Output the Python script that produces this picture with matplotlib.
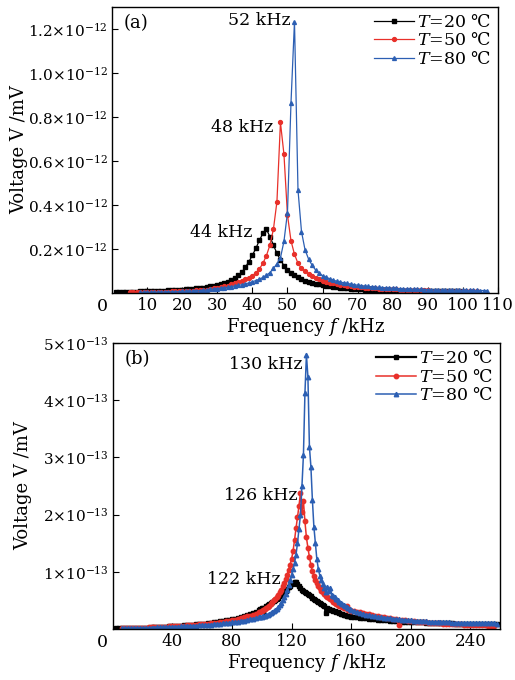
import matplotlib
matplotlib.use('Agg')
import matplotlib.pyplot as plt
import numpy as np

plt.rcParams['font.family'] = ['DejaVu Serif', 'DejaVu Sans']
plt.rcParams['mathtext.fontset'] = 'dejavuserif'

# ---------------- panel (a): values in 1e-12 mV, 1 kHz steps ----------------
fa_20 = list(range(1, 101))
va_20 = [.004, .0045, .005, .0055, .006, .0065, .007, .0075, .008, .0085,
         .009, .0095, .010, .0105, .011, .012, .013, .014, .015, .016,
         .017, .018, .019, .021, .023, .025, .027, .030, .033, .037,
         .041, .046, .052, .059, .067, .080, .095, .118, .142, .172,
         .203, .240, .271, .290, .256, .218, .180, .150, .125, .107,
         .093, .082, .072, .064, .057, .052, .047, .043, .039, .036,
         .033, .031, .029, .027, .025, .023, .021, .020, .019, .018,
         .017, .016, .0155, .015, .0145, .014, .0135, .013, .0125, .012,
         .0117, .0114, .0111, .0108, .0105, .0102, .0099, .0096, .0093, .009,
         .0088, .0086, .0084, .0082, .008, .0078, .0076, .0074, .0072, .007]

fa_50 = list(range(5, 105))
va_50 = [.003, .0033, .0036, .004, .0043, .0046, .005, .0054, .0058, .0062,
         .0066, .007, .0075, .008, .0085, .009, .0096, .0103, .011, .012,
         .013, .014, .016, .018, .021, .024, .027, .030, .034, .039,
         .044, .049, .055, .062, .070, .079, .092, .110, .135, .170,
         .218, .290, .415, .775, .630, .355, .238, .176, .135, .112,
         .100, .087, .077, .069, .062, .056, .051, .047, .044, .041,
         .038, .035, .033, .031, .029, .027, .026, .024, .023, .022,
         .021, .020, .019, .018, .0175, .017, .0165, .016, .0155, .015,
         .0145, .014, .0135, .013, .0125, .012, .0117, .0114, .0111, .0108,
         .0105, .0102, .0099, .0096, .0093, .009, .0087, .0084, .0081, .0078]

fa_80 = list(range(8, 108))
va_80 = [.003, .0033, .0036, .004, .0043, .0046, .005, .0054, .0058, .0062,
         .0066, .007, .0075, .008, .0087, .0095, .0104, .0114, .0125, .0137,
         .0165, .0185, .0205, .0225, .0245, .027, .0295, .032, .035, .038,
         .042, .046, .051, .057, .063, .071, .081, .093, .112, .133,
         .160, .235, .365, .862, 1.233, .468, .279, .197, .155, .127,
         .105, .090, .079, .072, .065, .059, .054, .050, .047, .044,
         .041, .038, .036, .034, .032, .030, .029, .027, .026, .025,
         .024, .023, .022, .021, .020, .019, .0185, .018, .0175, .017,
         .0165, .016, .0155, .015, .0145, .014, .0138, .0136, .0134, .0132,
         .013, .0128, .0126, .0124, .0122, .012, .0118, .0116, .0114, .0112]

# ---------------- panel (b): values in 1e-13 mV ----------------
fb_20 = list(range(0, 99, 2)) + list(range(99, 161)) + list(range(162, 259, 2))
vb_20 = [.008, .009, .010, .011, .012, .013, .015, .016, .018, .020,
         .022, .024, .026, .028, .030, .032, .035, .038, .041, .044,
         .047, .050, .054, .058, .062, .066, .070, .075, .080, .085,
         .090, .096, .102, .110, .118, .126, .134, .143, .152, .162,
         .172, .183, .195, .208, .222, .237, .258, .278, .300, .330,
         .345, .360, .375, .220, .405, .420, .435, .450, .470, .490,
         .510, .530, .550, .580, .600, .620, .645, .670, .700, .730,
         .760, .790, .810, .830, .820, .790, .750, .720, .690, .670,
         .650, .630, .610, .590, .570, .550, .530, .510, .490, .470,
         .450, .430, .415, .400, .280, .370, .355, .340, .330, .320,
         .310, .300, .290, .280, .270, .260, .250, .240, .235, .230,
         .220, .215,
         .210, .205, .200, .190, .185, .180, .175, .170, .165, .160,
         .155, .150, .145, .140, .137, .134, .131, .128, .125, .122,
         .120, .118, .116, .114, .112, .110, .108, .106, .104, .102,
         .100, .099, .098, .097, .096, .095, .094, .093, .092, .091,
         .090, .089, .088, .087, .086, .085, .084, .083, .082]

fb_50 = list(range(6, 99, 2)) + list(range(99, 161)) + list(range(162, 257, 2))
vb_50 = [.015, .016, .017, .018, .019, .020, .022, .024, .026, .028,
         .030, .032, .034, .036, .039, .042, .045, .048, .051, .054,
         .057, .060, .064, .068, .072, .076, .080, .085, .090, .095,
         .100, .106, .112, .119, .126, .134, .142, .150, .160, .170,
         .188, .203, .220, .235, .250, .270, .290,
         .300, .315, .330, .350, .370, .390, .410, .440, .470, .500,
         .530, .560, .600, .640, .690, .750, .810, .880, .950, 1.03,
         1.12, 1.22, 1.36, 1.55, 1.76, 1.95, 2.15, 2.38, 2.05, 2.23,
         1.88, 1.60, 1.42, 1.26, 1.12, 1.01, .930, .860, .800, .750,
         .710, .670, .640, .610, .580, .560, .540, .520, .500, .480,
         .460, .440, .425, .410, .395, .380, .370, .360, .400, .340,
         .330, .320,
         .310, .300, .290, .280, .265, .255, .245, .235, .225, .215,
         .205, .195, .185, .175, .167, .070, .155, .150, .145, .140,
         .135, .130, .125, .120, .116, .112, .108, .104, .100, .097,
         .094, .091, .088, .085, .083, .081, .079, .077, .075, .073,
         .071, .069, .067, .065, .063, .061, .060, .058]

fb_80 = list(range(6, 99, 2)) + list(range(99, 161)) + list(range(162, 259, 2))
vb_80 = [.012, .013, .014, .015, .016, .017, .018, .019, .020, .022,
         .024, .026, .028, .030, .032, .034, .036, .038, .040, .042,
         .044, .047, .050, .053, .056, .059, .062, .066, .070, .074,
         .078, .083, .088, .093, .098, .104, .110, .116, .123, .130,
         .138, .147, .157, .167, .178, .190, .203,
         .210, .217, .225, .233, .242, .252, .263, .275, .290, .310,
         .330, .350, .380, .420, .460, .510, .560, .620, .690, .770,
         .850, .940, 1.05, 1.15, 1.30, 1.50, 1.75, 2.00, 2.50, 3.05,
         4.12, 4.79, 4.41, 3.19, 2.84, 2.26, 1.79, 1.50, 1.22, 1.05,
         .930, .850, .780, .720, .640, .740, .660, .720, .600, .580,
         .560, .530, .505, .480, .460, .440, .420, .400, .380, .360,
         .345, .330,
         .310, .295, .280, .265, .250, .240, .230, .220, .210, .205,
         .200, .195, .190, .183, .177, .171, .166, .161, .156, .152,
         .148, .144, .140, .136, .133, .130, .127, .124, .122, .120,
         .118, .116, .114, .112, .110, .109, .108, .107, .106, .105,
         .104, .103, .102, .101, .100, .099, .098, .097, .096]

labels = [r'$T$=20 ℃', r'$T$=50 ℃', r'$T$=80 ℃']
colors = ['black', '#e8302a', '#2c5fb3']
markers = ['s', 'o', '^']

fig = plt.figure(figsize=(5.15, 6.8), dpi=100)
ax1 = fig.add_axes([0.2175, 0.569, 0.7495, 0.421])
ax2 = fig.add_axes([0.219, 0.075, 0.752, 0.4206])

sets_a = [(fa_20, va_20), (fa_50, va_50), (fa_80, va_80)]
for (f, v), c, m, lab in zip(sets_a, colors, markers, labels):
    ax1.plot(f, np.array(v) * 1e-12, color=c, marker=m, ms=2.8, lw=0.9, label=lab)

sets_b = [(fb_20, vb_20), (fb_50, vb_50), (fb_80, vb_80)]
lw_b = [1.6, 1.1, 1.1]
for (f, v), c, m, lab, w in zip(sets_b, colors, markers, labels, lw_b):
    ax2.plot(f, np.array(v) * 1e-13, color=c, marker=m, ms=3.2, lw=w, label=lab)

# axes (a)
ax1.set_xlim(0, 110)
ax1.set_ylim(0, 1.3e-12)
ax1.set_xticks(range(10, 111, 10))
yt = [0.2, 0.4, 0.6, 0.8, 1.0, 1.2]
ax1.set_yticks([t * 1e-12 for t in yt])
ax1.set_yticklabels([r'$%.1f{\times}10^{-12}$' % t for t in yt])
ax1.set_xlabel(r'Frequency $f$ /kHz', fontsize=13, labelpad=1)
ax1.set_ylabel('Voltage V /mV', fontsize=13)
ax1.yaxis.set_label_coords(-0.218, 0.5)
ax1.text(0.03, 0.975, '(a)', transform=ax1.transAxes, fontsize=13, va='top')
ax1.text(51, 1.24e-12, '52 kHz', ha='right', va='center', fontsize=12.5)
ax1.text(46, 0.75e-12, '48 kHz', ha='right', va='center', fontsize=12.5)
ax1.text(40, 0.277e-12, '44 kHz', ha='right', va='center', fontsize=12.5)
ax1.text(-0.012, -0.018, '0', transform=ax1.transAxes, ha='right', va='top', fontsize=12.5)

# axes (b)
ax2.set_xlim(0, 260)
ax2.set_ylim(0, 5e-13)
ax2.set_xticks(range(40, 241, 40))
ytb = [1, 2, 3, 4, 5]
ax2.set_yticks([t * 1e-13 for t in ytb])
ax2.set_yticklabels([r'$%d{\times}10^{-13}$' % t for t in ytb])
ax2.set_xlabel(r'Frequency $f$ /kHz', fontsize=13, labelpad=1)
ax2.set_ylabel('Voltage V /mV', fontsize=13)
ax2.yaxis.set_label_coords(-0.207, 0.5)
ax2.text(0.03, 0.975, '(b)', transform=ax2.transAxes, fontsize=13, va='top')
ax2.text(127.5, 4.62e-13, '130 kHz', ha='right', va='center', fontsize=12.5)
ax2.text(124, 2.33e-13, '126 kHz', ha='right', va='center', fontsize=12.5)
ax2.text(112.5, 0.87e-13, '122 kHz', ha='right', va='center', fontsize=12.5)
ax2.text(-0.012, -0.018, '0', transform=ax2.transAxes, ha='right', va='top', fontsize=12.5)

for ax in (ax1, ax2):
    ax.tick_params(direction='in', length=4, width=0.8, labelsize=12, pad=3)
    ax.tick_params(axis='y', labelsize=11)
    for s in ax.spines.values():
        s.set_linewidth(1.0)
    ax.legend(loc='upper right', frameon=False, fontsize=12.5, handlelength=2.3,
              handletextpad=0.15, labelspacing=0.1, borderaxespad=0.2,
              borderpad=0.2)

fig.savefig('out.png', dpi=100)
